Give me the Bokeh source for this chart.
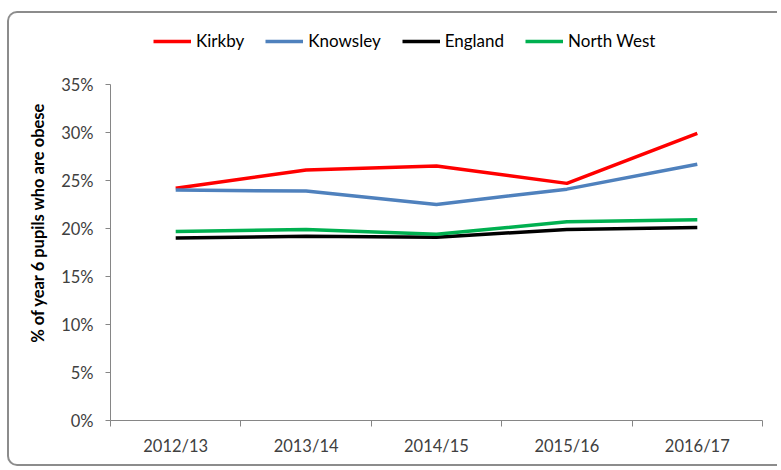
from bokeh.plotting import figure
from bokeh.models import (Range1d, FixedTicker, Legend, LegendItem,
                          PrintfTickFormatter)
from bokeh.embed import file_html
from bokeh.resources import INLINE

categories = ["2012/13", "2013/14", "2014/15", "2015/16", "2016/17"]
kirkby = [24.2, 26.1, 26.5, 24.7, 29.9]
knowsley = [24.0, 23.9, 22.5, 24.1, 26.7]
england = [19.0, 19.2, 19.1, 19.9, 20.1]
north_west = [19.7, 19.9, 19.4, 20.7, 20.9]
y_ticks = [0, 5, 10, 15, 20, 25, 30, 35]

series = [("Kirkby", kirkby, "#ff0000"),
          ("Knowsley", knowsley, "#4f81bd"),
          ("England", england, "#000000"),
          ("North West", north_west, "#00b050")]

xs = [i + 1 for i in range(len(categories))]

# layout (pixels inside the canvas)
canvas_w, canvas_h = 770, 455
axis_left, axis_right = 101, 753       # x of y-axis and of right end of x-axis
axis_top, axis_bottom = 71, 407        # y of 35% and 0%
frame_top = 11                         # frame extended upward to hold the legend
y_max = y_ticks[-1]
y_top = y_max + (axis_top - frame_top) * y_max / (axis_bottom - axis_top)

p = figure(width=canvas_w, height=canvas_h, output_backend="svg", toolbar_location=None,
           x_range=Range1d(0.5, len(categories) + 0.5), y_range=Range1d(0, y_top),
           min_border_left=axis_left, min_border_right=canvas_w - axis_right,
           min_border_top=frame_top, min_border_bottom=canvas_h - axis_bottom)
p.styles = {"margin-left": "7px", "margin-top": "11px",
            "border-top": "2px solid #8c8c8c", "border-left": "2px solid #8c8c8c",
            "border-bottom": "2px solid #8c8c8c", "border-right": "none",
            "border-radius": "10px 0 0 10px", "background-color": "white"}
p.outline_line_color = None
p.xgrid.visible = False
p.ygrid.visible = False
p.background_fill_color = "white"
p.border_fill_color = None

renderers = []
for name, vals, col in series:
    r = p.line(xs, vals, line_color=col, line_width=3.5)
    renderers.append((name, r))

axis_col = "#868686"
label_col = "#404040"

# x axis
p.xaxis.ticker = FixedTicker(ticks=xs, minor_ticks=[x - 0.5 for x in xs] + [xs[-1] + 0.5])
p.xaxis.major_label_overrides = {x: c for x, c in zip(xs, categories)}
p.xaxis.major_tick_out = 0
p.xaxis.major_tick_in = 0
p.xaxis.minor_tick_out = 6
p.xaxis.minor_tick_in = 0
p.xaxis.minor_tick_line_color = axis_col
p.xaxis.axis_line_color = axis_col
p.xaxis.major_label_text_font = "Lato"
p.xaxis.major_label_text_font_size = "16.5px"
p.xaxis.major_label_text_color = label_col
p.xaxis.major_label_standoff = 9

# y axis
p.yaxis.ticker = FixedTicker(ticks=y_ticks, minor_ticks=[])
p.yaxis.bounds = (0, y_max)
p.yaxis.formatter = PrintfTickFormatter(format="%d%%")
p.yaxis.major_tick_out = 5
p.yaxis.major_tick_in = 0
p.yaxis.major_tick_line_color = axis_col
p.yaxis.axis_line_color = axis_col
p.yaxis.major_label_text_font = "Lato"
p.yaxis.major_label_text_font_size = "16.5px"
p.yaxis.major_label_text_color = label_col
p.yaxis.major_label_standoff = 12
p.yaxis.axis_label = "% of year 6 pupils who are obese"
p.yaxis.axis_label_text_font = "Lato"
p.yaxis.axis_label_text_font_style = "bold"
p.yaxis.axis_label_text_font_size = "16.5px"
p.yaxis.axis_label_text_color = "black"
p.yaxis.axis_label_standoff = 10

legend = Legend(items=[LegendItem(label=n, renderers=[r]) for n, r in renderers],
                orientation="horizontal", location=(43, 369))
legend.padding = 0
legend.margin = 0
legend.border_line_color = None
legend.background_fill_alpha = 0
legend.glyph_width = 38
legend.glyph_height = 20
legend.label_height = 20
legend.label_standoff = 5
legend.spacing = 21
legend.label_text_font = "Lato"
legend.label_text_font_size = "17px"
legend.label_text_color = "black"
p.add_layout(legend, "center")

open("out.html", "w").write(file_html(p, INLINE))
